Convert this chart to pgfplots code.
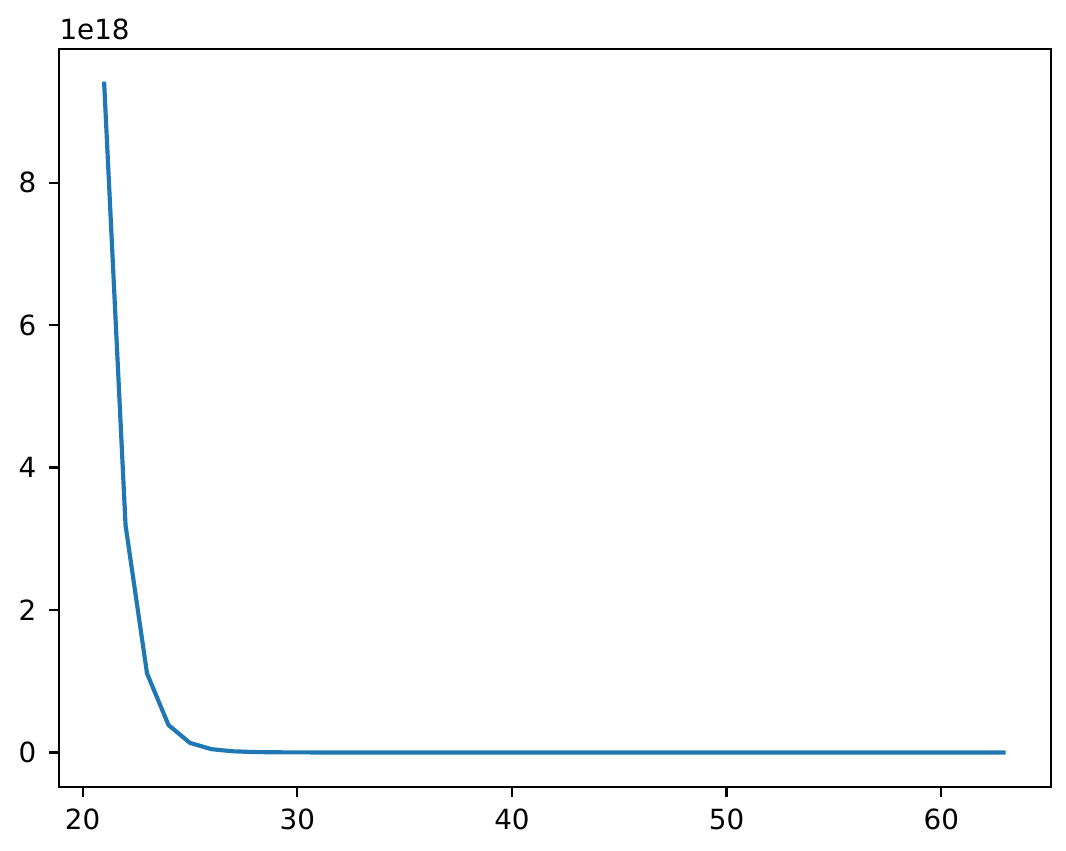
\documentclass[border=0pt]{standalone}
\usepackage{fontspec}
\setmainfont{DejaVu Sans}
\usepackage{pgfplots}
\pgfplotsset{compat=1.18}
\definecolor{mplblue}{RGB}{31,119,180}

% values in units of 1e18
\begin{document}
\begin{tikzpicture}
\begin{axis}[
  name=ax,
  width=357pt, height=265.6pt, scale only axis,
  xmin=18.9, xmax=65.1,
  ymin=-0.483, ymax=9.878,
  xtick={20,30,40,50,60},
  ytick={0,2,4,6,8},
  xtick pos=bottom, ytick pos=left,
  tick align=outside,
  major tick length=3.5pt,
  every tick/.style={black, line width=0.8pt},
  axis line style={line width=0.8pt, black},
  /pgf/number format/assume math mode=true,
  ticklabel style={font=\fontsize{10}{12}\selectfont},
  xticklabel style={anchor=north, inner sep=0pt, yshift=-4.1pt},
  yticklabel style={anchor=east, inner sep=0pt, xshift=-4.5pt},
  scaled y ticks=false,
  clip=false,
]
\addplot[mplblue, line width=1.5pt, line join=round] coordinates {
  (21,9.42) (22,3.19) (23,1.11) (24,0.385) (25,0.134) (26,0.046)
  (27,0.016) (28,0.0055) (29,0.0019) (30,0.00066) (31,0.00023)
  (32,0.00008) (33,0.000028) (34,0.0000097) (35,0.0000034)
  (36,0) (37,0) (38,0) (39,0) (40,0) (41,0) (42,0) (43,0) (44,0)
  (45,0) (46,0) (47,0) (48,0) (49,0) (50,0) (51,0) (52,0) (53,0)
  (54,0) (55,0) (56,0) (57,0) (58,0) (59,0) (60,0) (61,0) (62,0) (63,0)
};
\end{axis}
\node[anchor=base west, inner sep=0pt, font=\fontsize{10}{12}\selectfont]
  at ([yshift=3.3pt]ax.north west) {1e18};
\pgfresetboundingbox
\path[use as bounding box] ([xshift=-21.24pt, yshift=-22.8pt]ax.south west)
  rectangle ([xshift=5.5pt, yshift=17.64pt]ax.north east);
\end{tikzpicture}
\end{document}
